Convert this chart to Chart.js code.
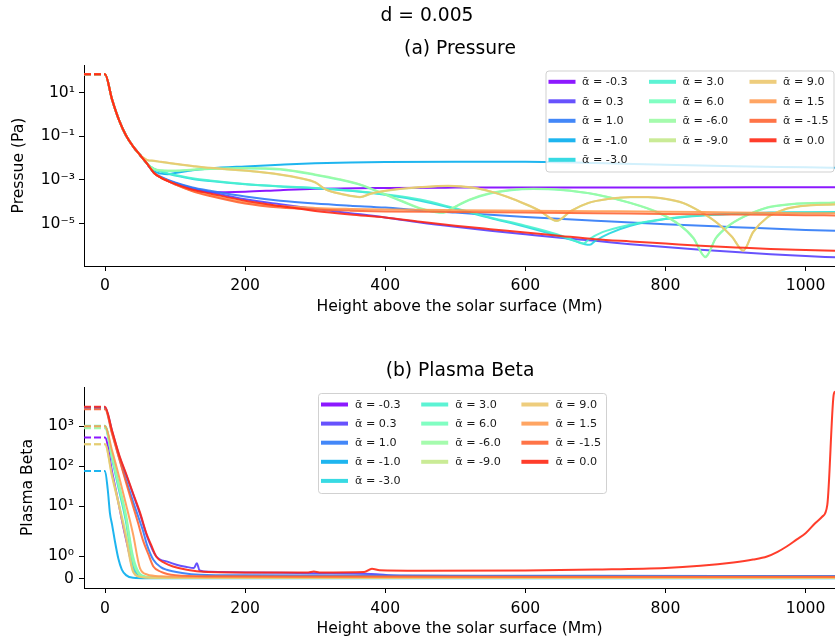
<!DOCTYPE html>
<html><head><meta charset="utf-8">
<script src="https://cdn.jsdelivr.net/npm/chart.js@4.4.1/dist/chart.umd.min.js"></script>
<style>
html,body{margin:0;padding:0;background:#fff;}
#wrap{position:relative;width:835px;height:642px;overflow:hidden;background:#fff;}
canvas{position:absolute;left:0;}
#c1{top:0}
#c2{top:321px}
</style></head><body>
<div id="wrap"><canvas id="c1" width="835" height="321" style="width:835px;height:321px"></canvas><canvas id="c2" width="835" height="321" style="width:835px;height:321px"></canvas></div>
<script>
// ---------- categories / labels ----------
const alphaValues = ['-0.3','0.3','1.0','-1.0','-3.0','3.0','6.0','-6.0','-9.0','9.0','1.5','-1.5','0.0'];
const seriesColors = ['rgb(128,0,255)','rgb(87,63,253)','rgb(47,122,247)','rgb(6,173,237)','rgb(34,214,224)','rgb(74,242,207)','rgb(115,254,187)','rgb(155,251,164)','rgb(196,233,139)','rgb(236,200,111)','rgb(255,155,82)','rgb(255,101,51)','rgb(255,40,20)'];
const xTickValues = [0, 200, 400, 600, 800, 1000];
const xTickLabels = ['0', '200', '400', '600', '800', '1000'];
const pressureTickValues = [1e-5, 1e-3, 1e-1, 1e1];
const pressureTickLabels = ['10\u207B\u2075', '10\u207B\u00B3', '10\u207B\u00B9', '10\u00B9'];
const betaTickValues = [0, 1, 10, 100, 1000];
const betaTickLabels = ['0', '10\u2070', '10\u00B9', '10\u00B2', '10\u00B3'];

// ---------- (a) Pressure (Pa) ----------
const pressureX_m03 = [-30, 0, 10, 20, 30, 40, 50, 60, 70, 80, 90, 100, 125, 150, 200, 250, 300, 400, 500, 600, 800, 1042];
const pressureY_m03 = [72, 72, 5.0, 0.56, 0.11, 0.035, 0.014, 5.6e-3, 2.1e-3, 1.3e-3, 8.9e-4, 6.3e-4, 3.8e-4, 2.7e-4, 2.9e-4, 3.4e-4, 3.9e-4, 4.3e-4, 4.45e-4, 4.5e-4, 4.55e-4, 4.6e-4];
const pressureX_p03 = [-30, 0, 10, 20, 30, 40, 50, 60, 70, 80, 90, 100, 125, 150, 200, 250, 300, 350, 400, 450, 500, 550, 600, 650, 700, 750, 800, 850, 900, 950, 1000, 1042];
const pressureY_p03 = [72, 72, 5.0, 0.56, 0.11, 0.035, 0.014, 5.6e-3, 2.1e-3, 1.3e-3, 9.5e-4, 7.2e-4, 4.2e-4, 2.8e-4, 1.3e-4, 7.6e-5, 4.7e-5, 3.0e-5, 1.9e-5, 1.12e-5, 7.1e-6, 4.7e-6, 3.2e-6, 2.2e-6, 1.6e-6, 1.12e-6, 8.3e-7, 6.3e-7, 4.9e-7, 3.9e-7, 3.2e-7, 2.8e-7];
const pressureX_p10 = [-30, 0, 10, 20, 30, 40, 50, 60, 70, 80, 90, 100, 125, 150, 200, 250, 300, 350, 400, 450, 500, 550, 600, 700, 800, 900, 1000, 1042];
const pressureY_p10 = [72, 72, 5.0, 0.56, 0.11, 0.035, 0.014, 5.6e-3, 2.1e-3, 1.4e-3, 1.0e-3, 7.6e-4, 4.5e-4, 3.2e-4, 1.74e-4, 1.12e-4, 8.3e-5, 6.6e-5, 5.4e-5, 4.0e-5, 3.2e-5, 2.5e-5, 2.0e-5, 1.35e-5, 9.3e-6, 6.8e-6, 5.0e-6, 4.6e-6];
const pressureX_m10 = [-30, 0, 10, 20, 30, 40, 50, 60, 70, 80, 90, 100, 125, 150, 200, 250, 300, 350, 400, 500, 600, 700, 800, 900, 1000, 1042];
const pressureY_m10 = [72, 72, 5.0, 0.56, 0.11, 0.035, 0.014, 5.6e-3, 2.5e-3, 1.95e-3, 1.82e-3, 2.1e-3, 2.8e-3, 3.4e-3, 4.2e-3, 5.0e-3, 5.8e-3, 6.3e-3, 6.6e-3, 6.9e-3, 6.8e-3, 6.0e-3, 5.0e-3, 4.3e-3, 3.8e-3, 3.6e-3];
const pressureX_m30 = [-30, 0, 10, 20, 30, 40, 50, 60, 70, 80, 90, 100, 125, 150, 200, 250, 300, 350, 400, 450, 500, 550, 600, 645, 670, 685, 692, 700, 720, 750, 800, 850, 900, 950, 1000, 1042];
const pressureY_m30 = [72, 72, 5.0, 0.56, 0.11, 0.035, 0.014, 5.6e-3, 3.2e-3, 2.4e-3, 1.9e-3, 1.6e-3, 1.12e-3, 8.9e-4, 6.3e-4, 5.0e-4, 4.2e-4, 3.2e-4, 2.1e-4, 1.12e-4, 4.7e-5, 1.8e-5, 7.1e-6, 2.8e-6, 1.6e-6, 1.12e-6, 1.05e-6, 1.6e-6, 3.5e-6, 7.9e-6, 1.6e-5, 2.3e-5, 2.8e-5, 3.2e-5, 3.3e-5, 3.4e-5];
const pressureX_p30 = [-30, 0, 10, 20, 30, 40, 50, 60, 70, 80, 90, 100, 125, 150, 200, 250, 300, 350, 400, 450, 500, 550, 600, 645, 670, 683, 690, 710, 750, 800, 850, 900, 1000, 1042];
const pressureY_p30 = [72, 72, 5.0, 0.56, 0.11, 0.035, 0.014, 5.6e-3, 3.2e-3, 2.5e-3, 2.0e-3, 1.7e-3, 1.2e-3, 9.5e-4, 6.6e-4, 5.2e-4, 4.3e-4, 3.3e-4, 2.2e-4, 1.26e-4, 5.0e-5, 1.9e-5, 7.9e-6, 3.2e-6, 1.66e-6, 1.2e-6, 1.8e-6, 4.0e-6, 8.9e-6, 1.66e-5, 2.4e-5, 2.8e-5, 3.2e-5, 3.2e-5];
const pressureX_p60 = [-30, 0, 10, 20, 30, 40, 50, 60, 70, 80, 90, 100, 125, 150, 200, 250, 300, 333, 364, 381, 400, 425, 450, 470, 483, 495, 520, 550, 580, 612, 650, 700, 750, 790, 820, 840, 857, 872, 890, 911, 945, 980, 1042];
const pressureY_p60 = [72, 72, 5.0, 0.56, 0.11, 0.035, 0.014, 5.6e-3, 3.1e-3, 2.7e-3, 2.6e-3, 2.6e-3, 2.9e-3, 3.2e-3, 3.4e-3, 3.0e-3, 1.7e-3, 1.05e-3, 6.0e-4, 3.7e-4, 2.1e-4, 1.0e-4, 4.8e-5, 3.4e-5, 3.1e-5, 4.8e-5, 1.2e-4, 2.4e-4, 3.4e-4, 3.8e-4, 3.45e-4, 2.15e-4, 8.7e-5, 3.1e-5, 8.5e-6, 2.1e-6, 3.0e-7, 2.1e-6, 7.6e-6, 1.95e-5, 5.3e-5, 7.7e-5, 9.1e-5];
const pressureX_m60 = [-30, 0, 10, 20, 30, 40, 50, 60, 70, 80, 90, 100, 125, 150, 200, 250, 300, 333, 364, 381, 400, 425, 450, 470, 483, 495, 520, 550, 580, 612, 650, 700, 750, 790, 820, 840, 857, 872, 890, 911, 945, 980, 1042];
const pressureY_m60 = [72, 72, 5.0, 0.56, 0.11, 0.035, 0.014, 5.6e-3, 3.2e-3, 2.8e-3, 2.7e-3, 2.7e-3, 3.0e-3, 3.3e-3, 3.55e-3, 3.2e-3, 1.8e-3, 1.12e-3, 6.3e-4, 3.9e-4, 2.2e-4, 1.05e-4, 5.0e-5, 3.55e-5, 3.2e-5, 5.0e-5, 1.26e-4, 2.5e-4, 3.55e-4, 3.9e-4, 3.55e-4, 2.2e-4, 8.9e-5, 3.2e-5, 8.9e-6, 2.2e-6, 2.8e-7, 2.2e-6, 7.9e-6, 2.0e-5, 5.5e-5, 7.9e-5, 9.3e-5];
const pressureX_m90 = [-30, 0, 10, 20, 30, 40, 50, 55, 60, 70, 80, 90, 100, 125, 150, 200, 250, 280, 300, 316, 340, 364, 380, 400, 425, 450, 490, 525, 550, 575, 600, 620, 645, 665, 690, 720, 750, 775, 800, 825, 850, 875, 895, 911, 925, 945, 970, 993, 1042];
const pressureY_m90 = [72, 72, 5.0, 0.56, 0.11, 0.035, 0.014, 0.0103, 8.1e-3, 7.4e-3, 6.6e-3, 6.0e-3, 5.4e-3, 4.3e-3, 3.5e-3, 2.65e-3, 1.75e-3, 1.15e-3, 7.6e-4, 3.5e-4, 2.15e-4, 1.62e-4, 2.35e-4, 3.1e-4, 3.9e-4, 4.6e-4, 5.3e-4, 4.4e-4, 2.95e-4, 1.62e-4, 7.7e-5, 3.9e-5, 1.3e-5, 3.7e-5, 8.7e-5, 1.35e-4, 1.62e-4, 1.62e-4, 1.35e-4, 8.7e-5, 3.4e-5, 9.7e-6, 2.4e-6, 5.8e-7, 3.9e-6, 1.85e-5, 4.4e-5, 6.2e-5, 7.5e-5];
const pressureX_p90 = [-30, 0, 10, 20, 30, 40, 50, 55, 60, 70, 80, 90, 100, 125, 150, 200, 250, 280, 300, 316, 340, 364, 380, 400, 425, 450, 490, 525, 550, 575, 600, 620, 645, 665, 690, 720, 750, 775, 800, 825, 850, 875, 895, 911, 925, 945, 970, 993, 1042];
const pressureY_p90 = [72, 72, 5.0, 0.56, 0.11, 0.035, 0.014, 0.0105, 8.3e-3, 7.6e-3, 6.8e-3, 6.2e-3, 5.5e-3, 4.4e-3, 3.6e-3, 2.7e-3, 1.8e-3, 1.2e-3, 7.9e-4, 3.55e-4, 2.2e-4, 1.66e-4, 2.4e-4, 3.2e-4, 4.0e-4, 4.7e-4, 5.4e-4, 4.5e-4, 3.0e-4, 1.66e-4, 7.9e-5, 4.0e-5, 1.35e-5, 3.8e-5, 8.9e-5, 1.38e-4, 1.66e-4, 1.66e-4, 1.38e-4, 8.9e-5, 3.5e-5, 1.0e-5, 2.5e-6, 5.6e-7, 4.0e-6, 1.9e-5, 4.5e-5, 6.3e-5, 7.6e-5];
const pressureX_p15 = [-30, 0, 10, 20, 30, 40, 50, 60, 70, 80, 90, 100, 125, 150, 200, 250, 300, 350, 400, 500, 600, 700, 800, 900, 1000, 1042];
const pressureY_p15 = [72, 72, 5.0, 0.56, 0.11, 0.035, 0.014, 5.6e-3, 2.1e-3, 1.26e-3, 8.9e-4, 6.3e-4, 3.2e-4, 2.0e-4, 9.3e-5, 6.3e-5, 5.2e-5, 4.7e-5, 4.4e-5, 4.1e-5, 3.9e-5, 3.7e-5, 3.5e-5, 3.2e-5, 3.0e-5, 2.95e-5];
const pressureX_m15 = [-30, 0, 10, 20, 30, 40, 50, 60, 70, 80, 90, 100, 125, 150, 200, 250, 300, 350, 400, 500, 600, 700, 800, 900, 1000, 1042];
const pressureY_m15 = [72, 72, 5.0, 0.56, 0.11, 0.035, 0.014, 5.6e-3, 2.1e-3, 1.26e-3, 8.9e-4, 6.3e-4, 3.0e-4, 1.82e-4, 8.3e-5, 5.4e-5, 4.4e-5, 3.9e-5, 3.6e-5, 3.4e-5, 3.2e-5, 3.0e-5, 2.75e-5, 2.6e-5, 2.4e-5, 2.35e-5];
const pressureX_00 = [-30, 0, 10, 20, 30, 40, 50, 60, 70, 80, 90, 100, 125, 150, 200, 250, 300, 350, 400, 450, 500, 550, 600, 650, 700, 750, 800, 850, 900, 950, 1000, 1042];
const pressureY_00 = [72, 72, 5.0, 0.56, 0.11, 0.035, 0.014, 5.6e-3, 2.1e-3, 1.26e-3, 8.9e-4, 6.6e-4, 3.55e-4, 2.4e-4, 1.12e-4, 6.3e-5, 3.8e-5, 2.6e-5, 1.9e-5, 1.2e-5, 7.9e-6, 5.5e-6, 3.9e-6, 2.7e-6, 1.9e-6, 1.5e-6, 1.2e-6, 9.5e-7, 8.0e-7, 6.8e-7, 6.1e-7, 5.6e-7];

// ---------- (b) Plasma Beta ----------
const betaX_m03 = [-30, 0, 10, 20, 26, 33, 40, 50, 60, 100, 1042];
const betaY_m03 = [519, 519, 73, 10.4, 3.1, 1.35, 0.39, 0.1, 0.06, 0.04, 0.04];
const betaX_p03 = [-30, 0, 10, 21, 30, 40, 50, 60, 73, 90, 102, 115, 127, 131, 135, 150, 200, 300, 380, 420, 600, 800, 1042];
const betaY_p03 = [3000, 3000, 760, 165, 62, 20, 6.3, 1.9, 1.0, 0.75, 0.62, 0.53, 0.47, 0.69, 0.36, 0.3, 0.27, 0.24, 0.2, 0.12, 0.1, 0.09, 0.08];
const betaX_p10 = [-30, 0, 10, 20, 30, 40, 50, 54, 60, 69, 80, 88, 110, 135, 200, 400, 700, 1042];
const betaY_p10 = [2800, 2800, 700, 165, 45, 13, 4, 2.5, 1.5, 0.84, 0.5, 0.39, 0.25, 0.17, 0.14, 0.13, 0.12, 0.11];
const betaX_m10 = [-30, 0, 4, 7, 10, 14, 19, 24, 30, 40, 60, 1042];
const betaY_m10 = [76, 76, 25, 6.7, 3.5, 1.7, 0.9, 0.4, 0.15, 0.03, 0.01, 0.01];
const betaX_m30 = [-30, 0, 10, 20, 30, 40, 50, 60, 80, 150, 1042];
const betaY_m30 = [1000, 1000, 150, 25, 4, 0.6, 0.12, 0.05, 0.03, 0.02, 0.02];
const betaX_p30 = [-30, 0, 10, 20, 30, 40, 50, 60, 80, 150, 1042];
const betaY_p30 = [1000, 1000, 180, 30, 5, 0.8, 0.15, 0.06, 0.03, 0.02, 0.02];
const betaX_p60 = [-30, 0, 10, 20, 30, 40, 50, 60, 80, 150, 1042];
const betaY_p60 = [1035, 1035, 200, 35, 6, 1.0, 0.2, 0.08, 0.04, 0.03, 0.03];
const betaX_m60 = [-30, 0, 10, 20, 30, 40, 50, 60, 80, 150, 1042];
const betaY_m60 = [893, 893, 170, 30, 5, 0.8, 0.15, 0.06, 0.04, 0.03, 0.03];
const betaX_m90 = [-30, 0, 10, 20, 30, 40, 50, 60, 80, 150, 1042];
const betaY_m90 = [355, 355, 60, 11, 2, 0.35, 0.08, 0.04, 0.03, 0.02, 0.02];
const betaX_p90 = [-30, 0, 10, 20, 30, 40, 50, 60, 80, 150, 1042];
const betaY_p90 = [355, 355, 55, 10, 1.8, 0.3, 0.07, 0.04, 0.03, 0.02, 0.02];
const betaX_p15 = [-30, 0, 10, 20, 30, 40, 50, 60, 80, 150, 1042];
const betaY_p15 = [1000, 1000, 250, 55, 11, 2, 0.45, 0.18, 0.1, 0.07, 0.06];
const betaX_m15 = [-30, 0, 10, 20, 30, 40, 47, 54, 62, 69, 80, 100, 150, 300, 600, 1042];
const betaY_m15 = [2660, 2660, 650, 160, 39, 10, 3.9, 1.74, 1.08, 0.54, 0.3, 0.15, 0.1, 0.09, 0.08, 0.08];
const betaX_00 = [-30, 0, 10, 21, 30, 40, 50, 59, 66, 73, 85, 97, 115, 135, 200, 290, 298, 306, 370, 381, 392, 450, 600, 700, 800, 850, 897, 925, 945, 960, 973, 987, 1000, 1014, 1024, 1031, 1040, 1042];
const betaY_00 = [3090, 3090, 780, 174, 65, 21, 6.9, 2.1, 1.5, 0.99, 0.7, 0.54, 0.4, 0.31, 0.27, 0.27, 0.31, 0.27, 0.29, 0.44, 0.37, 0.35, 0.36, 0.4, 0.47, 0.57, 0.72, 0.85, 0.99, 1.2, 1.44, 1.75, 2.1, 3.8, 5.5, 10.7, 6000, 7500];

const pressureXs = [pressureX_m03, pressureX_p03, pressureX_p10, pressureX_m10, pressureX_m30, pressureX_p30, pressureX_p60, pressureX_m60, pressureX_m90, pressureX_p90, pressureX_p15, pressureX_m15, pressureX_00];
const pressureYs = [pressureY_m03, pressureY_p03, pressureY_p10, pressureY_m10, pressureY_m30, pressureY_p30, pressureY_p60, pressureY_m60, pressureY_m90, pressureY_p90, pressureY_p15, pressureY_m15, pressureY_00];
const betaXs = [betaX_m03, betaX_p03, betaX_p10, betaX_m10, betaX_m30, betaX_p30, betaX_p60, betaX_m60, betaX_m90, betaX_p90, betaX_p15, betaX_m15, betaX_00];
const betaYs = [betaY_m03, betaY_p03, betaY_p10, betaY_m10, betaY_m30, betaY_p30, betaY_p60, betaY_m60, betaY_m90, betaY_p90, betaY_p15, betaY_m15, betaY_00];

// ---------- symlog scale (matplotlib-like) ----------
const LINTHRESH = 2, LINSCALE = 1;
const LIN_ADJ = LINSCALE / (1 - 1 / 10);
function symT(v) {
  const a = Math.abs(v);
  if (a <= LINTHRESH) return v * LIN_ADJ;
  return Math.sign(v) * LINTHRESH * (LIN_ADJ + Math.log10(a / LINTHRESH));
}
function symInv(t) {
  const a = Math.abs(t);
  if (a <= LINTHRESH * LIN_ADJ) return t / LIN_ADJ;
  return Math.sign(t) * LINTHRESH * Math.pow(10, a / LINTHRESH - LIN_ADJ);
}
class SymlogScale extends Chart.Scale {
  parse(raw) { return (raw === null || raw === undefined) ? null : +raw; }
  determineDataLimits() { this.min = this.options.min; this.max = this.options.max; }
  buildTicks() { return betaTickValues.map(v => ({ value: v })); }
  configure() {
    super.configure();
    this._t0 = symT(this.min);
    this._tr = symT(this.max) - this._t0;
  }
  getLabelForValue(v) { return String(v); }
  getPixelForValue(v) {
    if (v === null || v === undefined || isNaN(v)) return NaN;
    return this.getPixelForDecimal((symT(v) - this._t0) / this._tr);
  }
  getValueForPixel(p) { return symInv(this._t0 + this.getDecimalForPixel(p) * this._tr); }
}
SymlogScale.id = 'symlog';
SymlogScale.defaults = {};
Chart.register(SymlogScale);

Chart.defaults.font.family = '"DejaVu Sans", sans-serif';
Chart.defaults.color = '#000';

// ---------- plugins ----------
const textPlugin = {
  id: 'panelTexts',
  afterDraw(chart, args, opts) {
    const ctx = chart.ctx;
    ctx.save();
    ctx.fillStyle = '#000';
    ctx.textAlign = 'center';
    ctx.textBaseline = 'middle';
    (opts.items || []).forEach(t => {
      ctx.font = t.size + 'px "DejaVu Sans", sans-serif';
      ctx.fillText(t.text, t.x, t.y);
    });
    ctx.restore();
  }
};
const legendPlugin = {
  id: 'colLegend',
  afterDatasetsDraw(chart, args, o) {
    if (!o || !o.box) return;
    const ctx = chart.ctx;
    const b = o.box;
    ctx.save();
    const r = 3;
    ctx.beginPath();
    ctx.moveTo(b.x + r, b.y);
    ctx.lineTo(b.x + b.w - r, b.y); ctx.quadraticCurveTo(b.x + b.w, b.y, b.x + b.w, b.y + r);
    ctx.lineTo(b.x + b.w, b.y + b.h - r); ctx.quadraticCurveTo(b.x + b.w, b.y + b.h, b.x + b.w - r, b.y + b.h);
    ctx.lineTo(b.x + r, b.y + b.h); ctx.quadraticCurveTo(b.x, b.y + b.h, b.x, b.y + b.h - r);
    ctx.lineTo(b.x, b.y + r); ctx.quadraticCurveTo(b.x, b.y, b.x + r, b.y);
    ctx.closePath();
    ctx.fillStyle = 'rgba(255,255,255,0.8)';
    ctx.fill();
    ctx.strokeStyle = 'rgba(204,204,204,0.9)';
    ctx.lineWidth = 1;
    ctx.stroke();
    const counts = [5, 4, 4];
    let idx = 0;
    ctx.font = o.fontSize + 'px "DejaVu Sans", sans-serif';
    ctx.textBaseline = 'middle';
    ctx.textAlign = 'left';
    counts.forEach((n, col) => {
      for (let row = 0; row < n; row++, idx++) {
        const y = b.y + o.firstRow + row * o.rowGap;
        const x0 = b.x + o.handleOff + col * o.colGap;
        ctx.strokeStyle = seriesColors[idx];
        ctx.globalAlpha = 0.9;
        ctx.lineWidth = 4;
        ctx.beginPath(); ctx.moveTo(x0, y); ctx.lineTo(x0 + o.handleLen, y); ctx.stroke();
        ctx.globalAlpha = 1;
        ctx.fillStyle = '#1a1a1a';
        ctx.fillText('\u1FB1 = ' + alphaValues[idx], b.x + o.textOff + col * o.colGap, y + 0.5);
      }
    });
    ctx.restore();
  }
};

function makeDatasets(xs, ys) {
  const n = alphaValues.length;
  return alphaValues.map((a, i) => ({
    label: '\u1FB1 = ' + a,
    data: xs[i].map((x, k) => ({ x: x, y: ys[i][k] })),
    borderColor: seriesColors[i].replace('rgb(', 'rgba(').replace(')', ',0.9)'),
    backgroundColor: seriesColors[i],
    borderWidth: 2,
    pointRadius: 0,
    fill: false,
    order: n - 1 - i,
    cubicInterpolationMode: 'monotone',
    segment: { borderDash: ctx => (ctx.p1.parsed.x <= 0 ? [7, 3] : undefined) }
  }));
}

const FS = 15.6;
function xAxis(height, tickPad, titlePadBottom) {
  return {
    type: 'linear', min: -30, max: 1042,
    afterBuildTicks: s => { s.ticks = xTickValues.map(v => ({ value: v })); },
    afterFit: s => { s.height = height; },
    ticks: { autoSkip: false, maxRotation: 0, font: { size: FS }, color: '#000', padding: tickPad,
      callback: v => { const i = xTickValues.indexOf(v); return i >= 0 ? xTickLabels[i] : ''; } },
    grid: { display: true, drawOnChartArea: false, drawTicks: true, tickLength: 5, tickColor: '#000', tickWidth: 1 },
    border: { display: true, color: '#000', width: 1 },
    title: { display: true, text: 'Height above the solar surface (Mm)', font: { size: FS }, color: '#000', padding: { top: 0, bottom: titlePadBottom } }
  };
}

// ---------- chart (a) ----------
new Chart(document.getElementById('c1'), {
  type: 'line',
  data: { datasets: makeDatasets(pressureXs, pressureYs) },
  options: {
    responsive: false, animation: false, devicePixelRatio: 1,
    layout: { padding: { top: 65, left: 0, right: 0, bottom: 0 } },
    plugins: {
      legend: { display: false }, tooltip: { enabled: false }, title: { display: false },
      panelTexts: { items: [ { text: 'd = 0.005', x: 427, y: 16, size: 18.7 }, { text: '(a) Pressure', x: 460, y: 49.5, size: 18.7 } ] },
      colLegend: { box: { x: 546, y: 71, w: 288, h: 101 }, fontSize: 11.2, firstRow: 10.8, rowGap: 19.5, handleOff: 2.5, handleLen: 27, textOff: 36, colGap: 100.5 }
    },
    scales: {
      x: xAxis(55, 6, 5),
      y: {
        type: 'logarithmic', min: 1.12e-7, max: 190,
        afterBuildTicks: s => { s.ticks = pressureTickValues.map(v => ({ value: v })); },
        afterFit: s => { s.width = 84; },
        ticks: { autoSkip: false, font: { size: FS }, color: '#000', padding: 4,
          callback: v => { const i = pressureTickValues.indexOf(v); return i >= 0 ? pressureTickLabels[i] : ''; } },
        grid: { display: true, drawOnChartArea: false, drawTicks: true, tickLength: 5, tickColor: '#000', tickWidth: 1 },
        border: { display: true, color: '#000', width: 1 },
        title: { display: true, text: 'Pressue (Pa)', font: { size: FS }, color: '#000', padding: { top: 9.6, bottom: 0 } }
      }
    }
  },
  plugins: [textPlugin, legendPlugin]
});

// ---------- chart (b) ----------
new Chart(document.getElementById('c2'), {
  type: 'line',
  data: { datasets: makeDatasets(betaXs, betaYs) },
  options: {
    responsive: false, animation: false, devicePixelRatio: 1,
    layout: { padding: { top: 66, left: 0, right: 0, bottom: 0 } },
    plugins: {
      legend: { display: false }, tooltip: { enabled: false }, title: { display: false },
      panelTexts: { items: [ { text: '(b) Plasma Beta', x: 460, y: 50.5, size: 18.7 } ] },
      colLegend: { box: { x: 318.5, y: 72.5, w: 288, h: 100 }, fontSize: 11.2, firstRow: 11, rowGap: 19.1, handleOff: 2.5, handleLen: 27, textOff: 36.5, colGap: 100.2 }
    },
    scales: {
      x: xAxis(54, 7, 4),
      y: {
        type: 'symlog', min: -0.43, max: 9600,
        afterFit: s => { s.width = 84; },
        ticks: { autoSkip: false, font: { size: FS }, color: '#000', padding: 5,
          callback: v => { const i = betaTickValues.indexOf(v); return i >= 0 ? betaTickLabels[i] : ''; } },
        grid: { display: true, drawOnChartArea: false, drawTicks: true, tickLength: 5, tickColor: '#000', tickWidth: 1 },
        border: { display: true, color: '#000', width: 1 },
        title: { display: true, text: 'Plasma Beta', font: { size: FS }, color: '#000', padding: { top: 18.6, bottom: 0 } }
      }
    }
  },
  plugins: [textPlugin, legendPlugin]
});
</script>
</body></html>
